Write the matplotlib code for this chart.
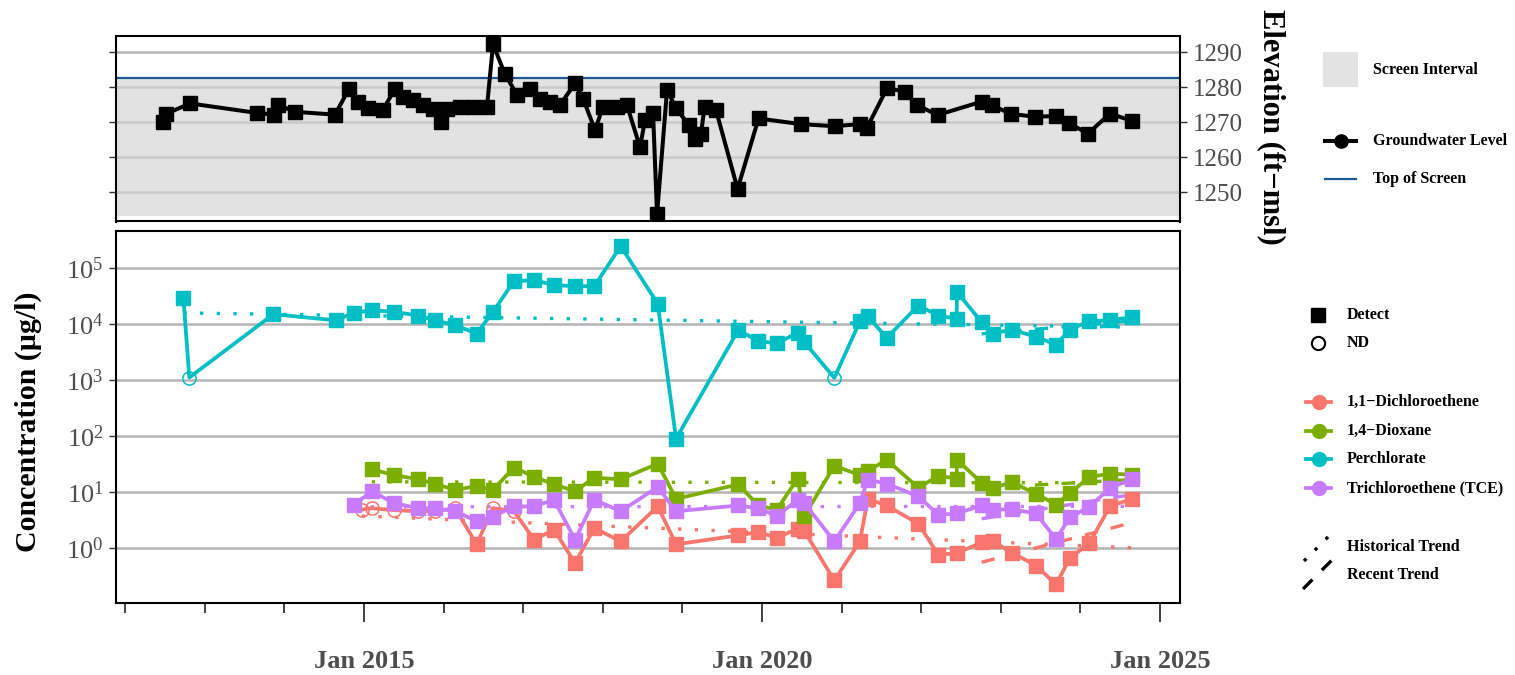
import matplotlib
matplotlib.use('Agg')
import matplotlib.pyplot as plt
from matplotlib.ticker import LogFormatterSciNotation, FixedLocator, NullFormatter
from matplotlib.patches import Rectangle

plt.rcParams['font.family'] = ['Liberation Serif', 'DejaVu Serif']
plt.rcParams['mathtext.fontset'] = 'custom'
plt.rcParams['mathtext.rm'] = 'Liberation Serif'
plt.rcParams['mathtext.it'] = 'Liberation Serif:italic'
plt.rcParams['mathtext.bf'] = 'Liberation Serif:bold'

# ---------------- data ----------------
gw_year = [2012.475, 2012.513, 2012.814, 2013.652, 2013.869, 2013.920, 2014.133, 2014.636, 2014.812, 2014.925,
           2015.050, 2015.239, 2015.389, 2015.490, 2015.616, 2015.741, 2015.867, 2015.967, 2016.043, 2016.206,
           2016.369, 2016.545, 2016.621, 2016.771, 2016.922, 2017.085, 2017.211, 2017.337, 2017.462, 2017.651,
           2017.751, 2017.902, 2018.003, 2018.178, 2018.304, 2018.467, 2018.530, 2018.631, 2018.681, 2018.807,
           2018.920, 2019.083, 2019.158, 2019.234, 2019.278, 2019.422, 2019.693, 2019.956, 2020.486, 2020.911,
           2021.231, 2021.319, 2021.570, 2021.790, 2021.947, 2022.206, 2022.758, 2022.884, 2023.128, 2023.430,
           2023.693, 2023.857, 2024.095, 2024.372, 2024.648]
gw_elev = [1270.1, 1272.4, 1275.4, 1272.7, 1272.2, 1275.0, 1273.0, 1272.2, 1279.6, 1275.9,
           1274.0, 1273.6, 1279.6, 1277.3, 1276.5, 1275.0, 1273.9, 1270.1, 1273.9, 1274.5,
           1274.5, 1274.5, 1292.3, 1283.7, 1277.9, 1279.6, 1276.8, 1275.9, 1275.0, 1281.1,
           1276.8, 1267.8, 1274.5, 1274.5, 1274.9, 1262.9, 1270.6, 1272.7, 1243.8, 1279.3,
           1274.0, 1269.2, 1265.3, 1266.8, 1274.5, 1273.5, 1251.0, 1271.1, 1269.5, 1268.9,
           1269.5, 1268.5, 1279.7, 1278.8, 1274.9, 1272.1, 1275.9, 1274.9, 1272.4, 1271.6,
           1271.8, 1269.7, 1266.8, 1272.5, 1270.4]
top_of_screen = 1282.6
screen_bottom = 1243.4

analytes = ['1,1\u2212Dichloroethene', '1,4\u2212Dioxane', 'Perchlorate', 'Trichloroethene (TCE)']
colors = ['#F8766D', '#7CAE00', '#00BFC4', '#C77CFF']

dce_year = [2014.971, 2015.097, 2015.375, 2015.682, 2015.892, 2016.143, 2016.416, 2016.617, 2016.884, 2017.136,
            2017.387, 2017.651, 2017.893, 2018.225, 2018.690, 2018.920, 2019.702, 2019.953, 2020.185, 2020.448,
            2020.531, 2020.908, 2021.231, 2021.328, 2021.567, 2021.964, 2022.215, 2022.447, 2022.760, 2022.898,
            2023.137, 2023.442, 2023.693, 2023.869, 2024.112, 2024.372, 2024.645]
dce_val = [4.8, 5.1, 4.7, 4.5, 4.5, 5.1, 1.15, 5.1, 4.5, 1.39,
           2.1, 0.53, 2.25, 1.30, 5.5, 1.15, 1.66, 1.90, 1.51, 2.19,
           1.99, 0.26, 1.30, 7.5, 5.7, 2.69, 0.75, 0.80, 1.24, 1.30,
           0.82, 0.48, 0.22, 0.65, 1.21, 5.5, 7.5]
dce_nd = [1, 1, 1, 1, 1, 1, 0, 1, 1] + [0] * 28

dx_year = [2015.097, 2015.375, 2015.682, 2015.892, 2016.143, 2016.416, 2016.617, 2016.884, 2017.136, 2017.387,
           2017.651, 2017.893, 2018.225, 2018.690, 2018.920, 2019.702, 2019.953, 2020.185, 2020.448, 2020.531,
           2020.908, 2021.231, 2021.328, 2021.567, 2021.964, 2022.215, 2022.444, 2022.450, 2022.760, 2022.898,
           2023.137, 2023.442, 2023.693, 2023.869, 2024.112, 2024.372, 2024.645]
dx_val = [25.3, 20.0, 16.8, 14.0, 10.8, 12.7, 10.8, 27.2, 18.7, 13.6,
          10.3, 17.9, 16.8, 32.0, 7.5, 13.6, 5.7, 4.8, 17.3, 3.7,
          29.2, 20.0, 23.7, 37.3, 11.9, 19.3, 17.3, 37.3, 14.5, 11.8,
          14.8, 9.3, 5.9, 9.5, 18.5, 21.2, 20.3]
dx_nd = [0] * 37

pc_year = [2012.730, 2012.805, 2013.861, 2014.644, 2014.874, 2015.097, 2015.375, 2015.682, 2015.892, 2016.143,
           2016.416, 2016.617, 2016.884, 2017.136, 2017.387, 2017.651, 2017.893, 2018.225, 2018.690, 2018.920,
           2019.702, 2019.953, 2020.185, 2020.448, 2020.531, 2020.908, 2021.231, 2021.328, 2021.567, 2021.964,
           2022.215, 2022.444, 2022.450, 2022.760, 2022.898, 2023.137, 2023.442, 2023.693, 2023.869, 2024.112,
           2024.372, 2024.645]
pc_val = [30200, 1115, 15170, 11800, 16070, 17900, 16750, 14380, 11840, 9640,
          6840, 16500, 59300, 61800, 50300, 48200, 48200, 251000, 23300, 89.8,
          7890, 5010, 4560, 7080, 4810, 1100, 11390, 13970, 5730, 21700,
          14380, 12530, 37600, 10950, 6840, 8070, 5970, 4340, 8070, 11390,
          11840, 13400]
pc_nd = [0, 1] + [0] * 23 + [1] + [0] * 16

tce_year = [2014.874, 2015.097, 2015.375, 2015.682, 2015.892, 2016.143, 2016.416, 2016.617, 2016.884, 2017.136,
            2017.387, 2017.651, 2017.893, 2018.225, 2018.690, 2018.920, 2019.702, 2019.953, 2020.185, 2020.448,
            2020.531, 2020.908, 2021.231, 2021.328, 2021.567, 2021.964, 2022.215, 2022.447, 2022.760, 2022.898,
            2023.137, 2023.442, 2023.693, 2023.869, 2024.112, 2024.372, 2024.645]
tce_val = [5.9, 10.2, 6.3, 5.1, 5.1, 4.5, 3.0, 3.6, 5.5, 5.5,
           7.2, 1.39, 7.2, 4.5, 12.2, 4.5, 5.7, 5.1, 3.7, 7.2,
           6.3, 1.30, 6.3, 16.6, 14.0, 8.3, 3.9, 4.1, 5.7, 4.8,
           4.9, 4.1, 1.43, 3.5, 5.4, 11.7, 16.9]
tce_nd = [0] * 37

# trend lines: (start year, end year) and (start value, end value)
hist_years = [(2014.971, 2024.645), (2015.097, 2024.645), (2012.730, 2024.645), (2014.874, 2024.645)]
hist_vals = [(3.7, 1.0), (15.1, 14.5), (16000, 8900), (5.4, 5.5)]
recent_years = (2022.760, 2024.645)
recent_vals = [(0.55, 2.8), (11.7, 16.6), (6760, 11500), (3.3, 8.9)]

series_year = [dce_year, dx_year, pc_year, tce_year]
series_val = [dce_val, dx_val, pc_val, tce_val]
series_nd = [dce_nd, dx_nd, pc_nd, tce_nd]

x_major = [2015, 2020, 2025]
x_major_labels = ['Jan 2015', 'Jan 2020', 'Jan 2025']
x_minor = [2012, 2013, 2014, 2016, 2017, 2018, 2019, 2021, 2022, 2023, 2024]

# ---------------- figure ----------------
W, H = 1515, 675
fig = plt.figure(figsize=(W / 100, H / 100), dpi=100)

def box(x0, y0, x1, y1):
    return [x0 / W, 1 - y1 / H, (x1 - x0) / W, (y1 - y0) / H]

GRID = '#B4B4B4'
TICKC = '#333333'
LABC = '#4D4D4D'
xlim = (2011.884, 2025.251)
LW = 2.7

# top panel
ax1 = fig.add_axes(box(116, 36.5, 1180, 221.5))
ax1.set_xlim(*xlim)
ax1.set_ylim(1241.7, 1294.5)
for v in [1250, 1260, 1270, 1280, 1290]:
    ax1.axhline(v, color=GRID, lw=1.8, zorder=0)
ax1.axhspan(screen_bottom, top_of_screen, color='#D4D4D4', alpha=0.66, lw=0, zorder=0.5)
ax1.axhline(top_of_screen, color='#1F5A94', lw=1.6, zorder=1)
ax1.plot(gw_year, gw_elev, color='black', lw=2.9, marker='s', ms=9.5, zorder=3)
ax1.set_yticks([1250, 1260, 1270, 1280, 1290])
ax1.tick_params(axis='y', which='both', left=True, right=True, labelleft=False, labelright=True,
                length=5, width=1, color=TICKC, labelcolor=LABC, labelsize=18, pad=4)
ax1.tick_params(axis='x', bottom=False, labelbottom=False)
ax1.set_xticks([])
for s in ax1.spines.values():
    s.set_linewidth(1.5)
    s.set_color('black')

# bottom panel
ax2 = fig.add_axes(box(116, 230.5, 1180, 603))
ax2.set_yscale('log')
ax2.set_xlim(*xlim)
ax2.set_ylim(10 ** -0.99, 10 ** 5.68)
for p in range(0, 6):
    ax2.axhline(10 ** p, color=GRID, lw=1.8, zorder=0)

for i in range(4):
    c = colors[i]
    ax2.plot(list(hist_years[i]), list(hist_vals[i]), color=c, lw=2.4, ls=(0, (1, 4)), zorder=1)
    ax2.plot(list(recent_years), list(recent_vals[i]), color=c, lw=2.4, ls=(0, (4, 4)), zorder=1)

for i in range(4):
    c = colors[i]
    yr, val, nd = series_year[i], series_val[i], series_nd[i]
    ax2.plot(yr, val, color=c, lw=LW, zorder=2 + i * 0.1)
    dx_ = [x for x, n in zip(yr, nd) if not n]
    dv_ = [v for v, n in zip(val, nd) if not n]
    nx_ = [x for x, n in zip(yr, nd) if n]
    nv_ = [v for v, n in zip(val, nd) if n]
    ax2.plot(dx_, dv_, ls='none', marker='s', ms=9.5, color=c, mec=c, zorder=2.05 + i * 0.1)
    ax2.plot(nx_, nv_, ls='none', marker='o', ms=9.5, mfc='none', mec=c, mew=1.1, zorder=2.05 + i * 0.1)

ax2.yaxis.set_major_locator(FixedLocator([10 ** p for p in range(0, 6)]))
ax2.yaxis.set_major_formatter(LogFormatterSciNotation())
ax2.yaxis.set_minor_formatter(NullFormatter())
ax2.tick_params(axis='y', which='minor', left=False)
ax2.tick_params(axis='y', which='major', length=5, width=1, color=TICKC, labelcolor=LABC, labelsize=19, pad=4)
ax2.set_xticks(x_major)
ax2.set_xticklabels(x_major_labels)
ax2.set_xticks(x_minor, minor=True)
ax2.tick_params(axis='x', which='major', length=14, width=1.3, color=TICKC, labelcolor=LABC,
                labelsize=19, pad=20)
ax2.tick_params(axis='x', which='minor', length=7, width=1.3, color=TICKC)
for lab in ax2.get_xticklabels():
    lab.set_fontweight('bold')
for s in ax2.spines.values():
    s.set_linewidth(1.5)
    s.set_color('black')

fig.text(28 / W, 1 - 422 / H, 'Concentration (\u00b5g/l)', rotation=90, ha='center', va='center',
         fontsize=21.5, fontweight='bold', color='black')
fig.text(1271 / W, 1 - 127 / H, 'Elevation (ft\u2212msl)', rotation=270, ha='center', va='center',
         fontsize=22, fontweight='bold', color='black')

# ---------------- legends (drawn in figure pixel space) ----------------
lg = fig.add_axes([0, 0, 1, 1])
lg.set_xlim(0, W)
lg.set_ylim(H, 0)
lg.axis('off')
lg.patch.set_alpha(0)
LF = dict(fontsize=11.5, fontweight='bold', va='center', ha='left', color='black')

lg.add_patch(Rectangle((1323, 52), 35, 35, color='#E3E3E3', lw=0))
lg.text(1373, 70, 'Screen Interval', **LF)
lg.plot([1325, 1356], [141, 141], color='black', lw=2.9)
lg.plot([1340.5], [141], marker='o', ms=9.5, color='black')
lg.text(1373, 141, 'Groundwater Level', **LF)
lg.plot([1325, 1356], [179, 179], color='#1F5A94', lw=1.6)
lg.text(1373, 179, 'Top of Screen', **LF)

lg.plot([1318], [315], marker='s', ms=9.5, color='black')
lg.text(1347, 315, 'Detect', **LF)
lg.plot([1318], [343], marker='o', ms=9.5, mfc='none', mec='black', mew=1.5)
lg.text(1347, 343, 'ND', **LF)
for i, (name, c) in enumerate(zip(analytes, colors)):
    yy = 402 + i * 28.7
    lg.plot([1306, 1331], [yy, yy], color=c, lw=LW)
    lg.plot([1318.5], [yy], marker='o', ms=10, color=c)
    lg.text(1347, yy, name, **LF)

lg.plot([1304, 1331], [561, 534], color='black', lw=2.4, ls=(0, (1, 3.6)))
lg.text(1347, 547, 'Historical Trend', **LF)
lg.plot([1303, 1334], [589, 558], color='black', lw=2.4, ls=(0, (4, 4)))
lg.text(1347, 575, 'Recent Trend', **LF)

fig.savefig('out.png', dpi=100)
